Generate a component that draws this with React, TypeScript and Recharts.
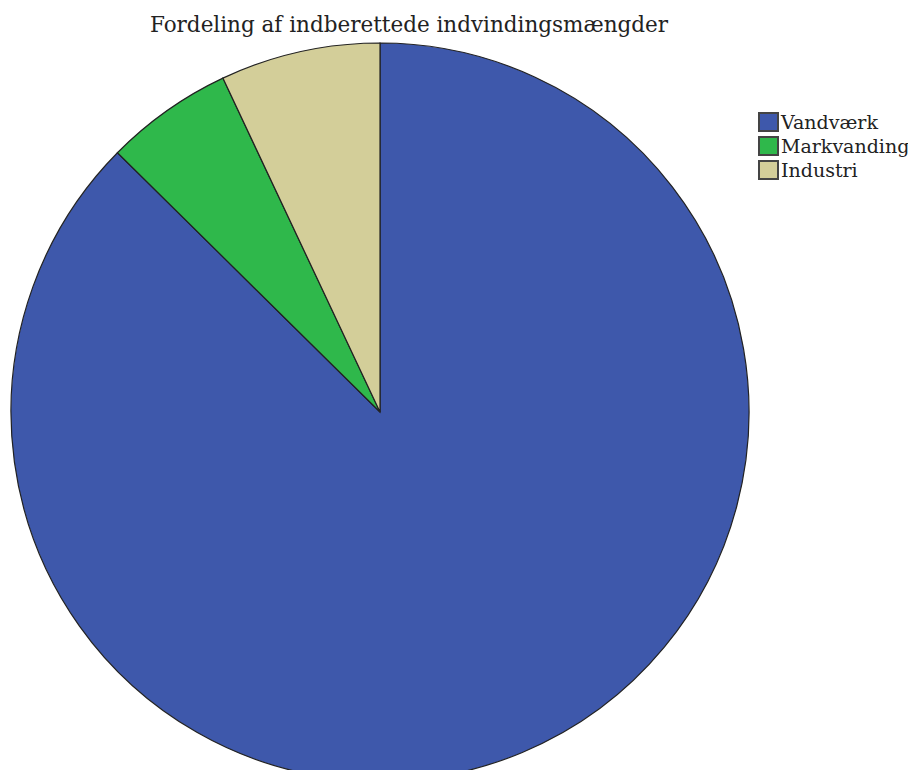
import React from 'react';
import { PieChart, Pie, Cell } from 'recharts';

const categories = ['Vandværk', 'Markvanding', 'Industri'];
const shares = [87.4, 5.6, 7.0];
const colors = ['#3e58ab', '#2fb84b', '#d3ce99'];

const data = categories.map((name, i) => ({ name, value: shares[i] }));

const FONT = '"DejaVu Serif", serif';

export default function App() {
  return (
    <div style={{ position: 'relative', width: 916, height: 778, margin: -8, overflow: 'hidden', background: '#fff' }}>
      <div
        style={{
          position: 'absolute',
          left: 0,
          width: 818,
          top: 12,
          textAlign: 'center',
          fontFamily: FONT,
          fontSize: 21.5,
          color: '#222',
          lineHeight: '26px',
          zIndex: 2,
        }}
      >
        Fordeling af indberettede indvindingsmængder
      </div>
      <div
        style={{
          position: 'absolute',
          left: 758,
          top: 110,
          fontFamily: FONT,
          fontSize: 19,
          color: '#222',
          lineHeight: '24px',
          zIndex: 2,
        }}
      >
        {categories.map((c, i) => (
          <div key={c} style={{ display: 'flex', alignItems: 'center', height: 24, whiteSpace: 'nowrap' }}>
            <span
              style={{
                display: 'inline-block',
                width: 21,
                height: 20,
                background: colors[i],
                border: '2px solid #444',
                boxSizing: 'border-box',
                marginRight: 2,
                flexShrink: 0,
              }}
            />
            <span>{c}</span>
          </div>
        ))}
      </div>
      <PieChart width={916} height={778} margin={{ top: 0, right: 0, bottom: 0, left: 0 }}>
        <Pie
          data={data}
          dataKey="value"
          nameKey="name"
          cx={380}
          cy={412}
          outerRadius={369}
          startAngle={90}
          endAngle={-270}
          stroke="#222"
          strokeWidth={1.2}
          isAnimationActive={false}
        >
          {data.map((d, i) => (
            <Cell key={d.name} fill={colors[i]} />
          ))}
        </Pie>
      </PieChart>
    </div>
  );
}
